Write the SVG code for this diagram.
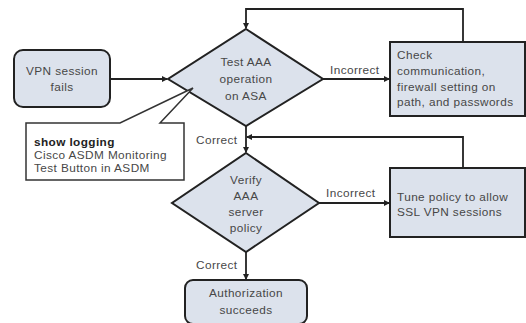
<svg xmlns="http://www.w3.org/2000/svg" width="526" height="323" viewBox="0 0 526 323">
  <style>
    .node { fill: #dce2ec; stroke: #222; stroke-width: 2; }
    .note { fill: #fff; stroke: #333; stroke-width: 1.5; }
    .wire { fill: none; stroke: #222; stroke-width: 1.8; marker-end: url(#arrow); }
    text { font-family: "Liberation Sans", Arial, sans-serif; font-size: 11.8px; fill: #474747; letter-spacing: 0.4px; }
    .c { text-anchor: middle; }
    .b { font-weight: bold; fill: #222; }
  </style>
  <defs>
    <marker id="arrow" markerWidth="6" markerHeight="6" refX="5" refY="3" orient="auto" markerUnits="userSpaceOnUse">
      <path d="M0,0 L6,3 L0,6 Z" fill="#222"/>
    </marker>
  </defs>
  <rect width="526" height="323" fill="#fff"/>

  <g id="connectors">
    <path class="wire" d="M110,79 H167"/>
    <path class="wire" d="M463,42 V9 H246 V28"/>
    <path class="wire" d="M323,79 H389"/>
    <path class="wire" d="M246,126 V152"/>
    <path class="wire" d="M463,168 V137 H247"/>
    <path class="wire" d="M319,203 H389"/>
    <path class="wire" d="M246,252 V279"/>
    <text x="330" y="74">Incorrect</text>
    <text x="196" y="144">Correct</text>
    <text x="326" y="197">Incorrect</text>
    <text x="196" y="269">Correct</text>
  </g>

  <g id="vpn-fails">
    <rect class="node" x="14" y="50" width="96" height="57" rx="9"/>
    <text class="c" x="62" y="75">VPN session</text>
    <text class="c" x="62" y="91">fails</text>
  </g>

  <g id="test-aaa">
    <polygon class="node" points="246,29 323,79 246,126 168,79"/>
    <text class="c" x="246" y="66">Test AAA</text>
    <text class="c" x="246" y="83">operation</text>
    <text class="c" x="246" y="100">on ASA</text>
  </g>

  <g id="check-comm">
    <rect class="node" x="390" y="42" width="135" height="74"/>
    <text x="397" y="59">Check</text>
    <text x="397" y="75">communication,</text>
    <text x="397" y="91">firewall setting on</text>
    <text x="397" y="106">path, and passwords</text>
  </g>

  <g id="tools-note">
    <path class="note" d="M120,123 H26 V180 H184 V123 H160 L193,88 Z"/>
    <text class="b" x="34" y="146">show logging</text>
    <text x="34" y="159">Cisco ASDM Monitoring</text>
    <text x="34" y="172">Test Button in ASDM</text>
  </g>

  <g id="verify-policy">
    <polygon class="node" points="246,153 319,203 246,252 172,203"/>
    <text class="c" x="246" y="184">Verify</text>
    <text class="c" x="246" y="200">AAA</text>
    <text class="c" x="246" y="216">server</text>
    <text class="c" x="246" y="232">policy</text>
  </g>

  <g id="tune-policy">
    <rect class="node" x="390" y="168" width="135" height="69"/>
    <text x="397" y="201">Tune policy to allow</text>
    <text x="397" y="216">SSL VPN sessions</text>
  </g>

  <g id="auth-ok">
    <rect class="node" x="185" y="280" width="122" height="44" rx="8"/>
    <text class="c" x="246" y="297">Authorization</text>
    <text class="c" x="246" y="314">succeeds</text>
  </g>
</svg>
